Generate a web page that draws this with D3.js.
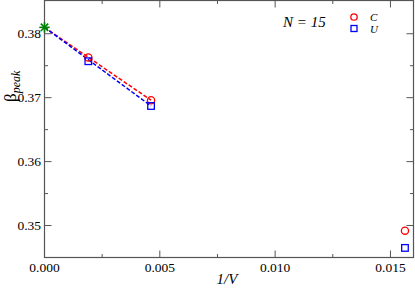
<!DOCTYPE html>
<html>
<head>
<meta charset="utf-8">
<script src="https://cdn.jsdelivr.net/npm/d3@7"></script>
<style>
  body { margin: 0; background: #fff; }
  text { font-family: "Liberation Serif", "DejaVu Serif", serif; }
</style>
</head>
<body>
<svg id="chart" width="415" height="291"></svg>
<script>
// values
const invV = [0.0019, 0.00462, 0.01563];
const betaC = [0.3763, 0.3696, 0.3492];
const betaU = [0.3757, 0.3687, 0.3465];
// extrapolated point at 1/V = 0
const extrap = [0, 0.381];
const xTicks = [0, 0.005, 0.010, 0.015];
const yTicks = [0.35, 0.36, 0.37, 0.38];

const svg = d3.select("#chart");
const margin = {left: 44.5, right: 1.5, top: 0.5, bottom: 33.5};
const width = 415, height = 291;

const x = d3.scaleLinear().domain([0, 0.016]).range([margin.left, width - margin.right]);
const y = d3.scaleLinear().domain([0.345, 0.3852]).range([height - margin.bottom, margin.top]);

const axisCol = "#555";

// frame
svg.append("rect")
  .attr("x", x(0)).attr("y", y(0.3852))
  .attr("width", x(0.016) - x(0)).attr("height", y(0.345) - y(0.3852))
  .attr("fill", "none").attr("stroke", axisCol).attr("stroke-width", 1.2);

// ticks, all pointing inward
function ticksX(vals, len, ypos, dir) {
  vals.forEach(v => {
    svg.append("line").attr("x1", x(v)).attr("x2", x(v))
      .attr("y1", ypos).attr("y2", ypos + dir * len)
      .attr("stroke", axisCol).attr("stroke-width", 1);
  });
}
function ticksY(vals, len, xpos, dir) {
  vals.forEach(v => {
    svg.append("line").attr("y1", y(v)).attr("y2", y(v))
      .attr("x1", xpos).attr("x2", xpos + dir * len)
      .attr("stroke", axisCol).attr("stroke-width", 1);
  });
}
const xMinor = [0.0025, 0.0075, 0.0125];
const yMinor = [0.355, 0.365, 0.375];
ticksX(xTicks, 7, y(0.345), -1);
ticksX(xMinor, 3.5, y(0.345), -1);
ticksX(xTicks, 7, y(0.3852), 1);
ticksX(xMinor, 3.5, y(0.3852), 1);
ticksY(yTicks, 7, x(0), 1);
ticksY(yMinor, 3.5, x(0), 1);
ticksY(yTicks, 7, x(0.016), -1);
ticksY(yMinor, 3.5, x(0.016), -1);

// tick labels
svg.selectAll(".xl").data(xTicks).enter().append("text")
  .attr("x", d => x(d)).attr("y", 272)
  .attr("text-anchor", "middle").attr("font-size", 13.5)
  .text(d => d3.format(".3f")(d));
svg.selectAll(".yl").data(yTicks).enter().append("text")
  .attr("x", 41).attr("y", d => y(d) + 4.5)
  .attr("text-anchor", "end").attr("font-size", 13.5)
  .text(d => d3.format(".2f")(d));

// axis titles
svg.append("text").attr("x", 227).attr("y", 284)
  .attr("text-anchor", "middle").attr("font-size", 15).attr("font-style", "italic")
  .text("1/V");
const yl = svg.append("text")
  .attr("transform", "translate(16,102) rotate(-90)")
  .attr("font-size", 17);
yl.append("tspan").text("β");
yl.append("tspan").attr("font-size", 12).attr("font-style", "italic").attr("dy", 4).text("peak");

// dashed extrapolation lines
const line = d3.line().x(d => x(d[0])).y(d => y(d[1]));
svg.append("path").datum([extrap, [invV[1], betaC[1]]])
  .attr("d", line).attr("fill", "none").attr("stroke", "#ff0000")
  .attr("stroke-width", 1.5).attr("stroke-dasharray", "4,2");
svg.append("path").datum([extrap, [invV[1], betaU[1]]])
  .attr("d", line).attr("fill", "none").attr("stroke", "#0000ff")
  .attr("stroke-width", 1.5).attr("stroke-dasharray", "4,2");

// markers
svg.selectAll(".c").data(invV).enter().append("circle")
  .attr("cx", d => x(d)).attr("cy", (d, i) => y(betaC[i])).attr("r", 3.6)
  .attr("fill", "none").attr("stroke", "#ff0000").attr("stroke-width", 1.3);
svg.selectAll(".u").data(invV).enter().append("rect")
  .attr("x", d => x(d) - 3.3).attr("y", (d, i) => y(betaU[i]) - 3.3)
  .attr("width", 6.6).attr("height", 6.6)
  .attr("fill", "none").attr("stroke", "#0000ff").attr("stroke-width", 1.3);

// green star
const sx = x(extrap[0]), sy = y(extrap[1]);
[0, 45, 90, 135].forEach(a => {
  const r = 5.2, t = a * Math.PI / 180;
  svg.append("line")
    .attr("x1", sx - r * Math.cos(t)).attr("y1", sy - r * Math.sin(t))
    .attr("x2", sx + r * Math.cos(t)).attr("y2", sy + r * Math.sin(t))
    .attr("stroke", "#008000").attr("stroke-width", 1.6);
});

// annotation + legend
svg.append("text").attr("x", 283).attr("y", 27)
  .attr("font-size", 15).attr("font-style", "italic").text("N = 15");
svg.append("circle").attr("cx", 354).attr("cy", 17).attr("r", 3.2)
  .attr("fill", "none").attr("stroke", "#ff0000").attr("stroke-width", 1.3);
svg.append("rect").attr("x", 351).attr("y", 25.5).attr("width", 6).attr("height", 6)
  .attr("fill", "none").attr("stroke", "#0000ff").attr("stroke-width", 1.3);
svg.append("text").attr("x", 370).attr("y", 21).attr("font-size", 11)
  .attr("font-style", "italic").text("C");
svg.append("text").attr("x", 370).attr("y", 33).attr("font-size", 11)
  .attr("font-style", "italic").text("U");
</script>
</body>
</html>
